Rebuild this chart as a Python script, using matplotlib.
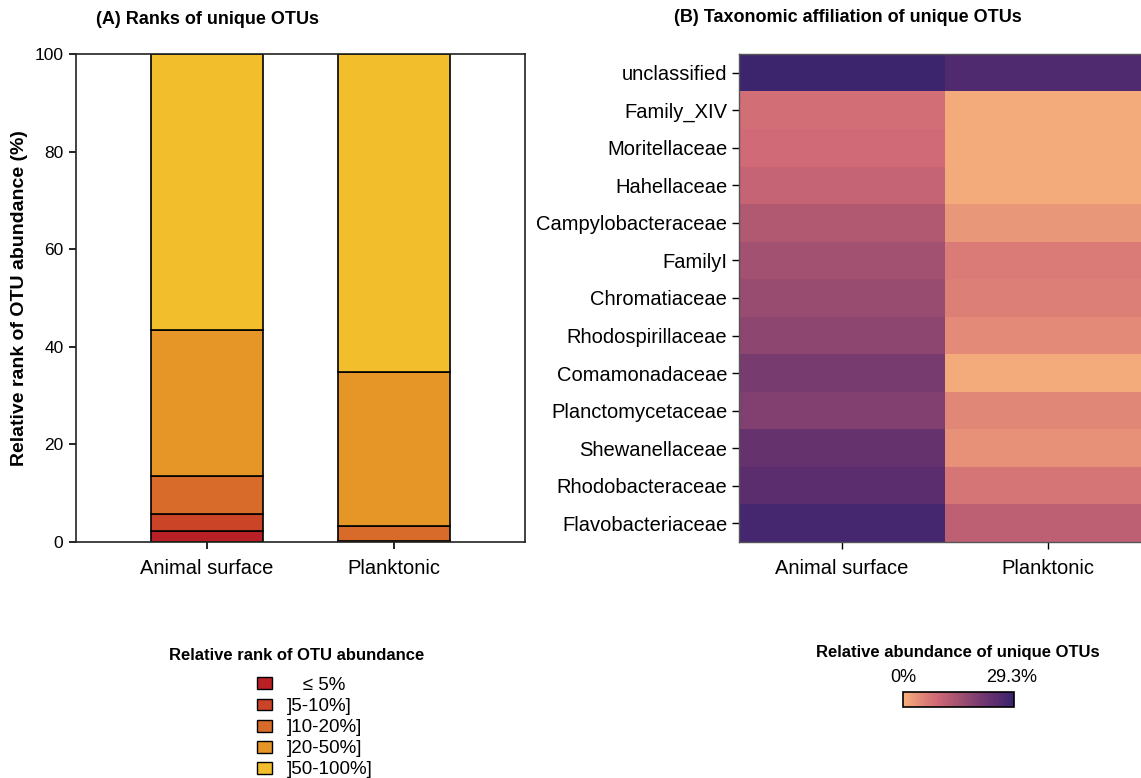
import numpy as np
import matplotlib
matplotlib.use("Agg")
import matplotlib.pyplot as plt
from matplotlib.patches import Patch
from matplotlib.colors import LinearSegmentedColormap, Normalize
from matplotlib.colorbar import ColorbarBase

plt.rcParams["font.family"] = ["Liberation Sans", "DejaVu Sans"]

# ---- data ----
habitats = ["Animal surface", "Planktonic"]
rank_classes = ["\u2264 5%", "]5-10%]", "]10-20%]", "]20-50%]", "]50-100%]"]
rank_colors = ["#B82025", "#CC4428", "#D86B29", "#E69626", "#F3BE2B"]
# share (%) of unique OTUs in each rank class
animal_ranks = [2.3, 3.4, 7.9, 29.9, 56.5]
planktonic_ranks = [0.1, 0.1, 3.0, 31.6, 65.2]

families = ["unclassified", "Family_XIV", "Moritellaceae", "Hahellaceae",
            "Campylobacteraceae", "FamilyI", "Chromatiaceae", "Rhodospirillaceae",
            "Comamonadaceae", "Planctomycetaceae", "Shewanellaceae",
            "Rhodobacteraceae", "Flavobacteriaceae"]
animal_abund = [28.4, 8.2, 8.8, 10.3, 12.9, 14.7, 16.1, 17.6, 20.2, 18.8, 22.9, 24.6, 27.5]
plankt_abund = [26.1, 0.6, 0.6, 0.6, 2.9, 6.4, 5.9, 4.4, 0.6, 4.7, 3.5, 7.3, 11.1]
abund_max = 29.3

cmap = LinearSegmentedColormap.from_list("sunset", [
    (0.0, "#F6B07C"), (0.15, "#E38A78"), (0.3, "#D06A76"), (0.5, "#A35270"),
    (0.7, "#763A70"), (0.85, "#5A2D6E"), (1.0, "#37246F")])

W, H = 1141, 778
fig = plt.figure(figsize=(W / 100, H / 100), dpi=100)


def px_box(left, top, right, bottom):
    return [left / W, 1 - bottom / H, (right - left) / W, (bottom - top) / H]


# ---- (A) stacked bars ----
ax1 = fig.add_axes(px_box(76, 54, 525, 542))
x = np.arange(len(habitats))
bottoms = np.zeros(len(habitats))
for i, cls in enumerate(rank_classes):
    vals = np.array([animal_ranks[i], planktonic_ranks[i]])
    ax1.bar(x, vals, width=0.6, bottom=bottoms, color=rank_colors[i],
            edgecolor="black", linewidth=1.2)
    bottoms += vals

ax1.set_xlim(-0.7, 1.7)
ax1.set_ylim(0, 100)
ax1.set_yticks([0, 20, 40, 60, 80, 100])
ax1.set_xticks(x)
ax1.set_xticklabels(habitats)
ax1.tick_params(axis="y", labelsize=12.5, length=5, width=1.2, pad=4)
ax1.tick_params(axis="x", labelsize=14.5, length=5, width=1.2, pad=7)
for s in ax1.spines.values():
    s.set_linewidth(1.2)
    s.set_color("#222222")
ax1.set_ylabel("Relative rank of OTU abundance (%)", fontsize=14, fontweight="bold")
ax1.yaxis.set_label_coords((28 - 76) / 449, 0.5)
fig.text(207 / W, 1 - 20 / H, "(A) Ranks of unique OTUs", ha="center", va="center",
         fontsize=13, fontweight="bold")

# ---- (B) heatmap ----
ax2 = fig.add_axes(px_box(739, 54, 1151, 542))
mat = np.column_stack([animal_abund, plankt_abund])
ax2.imshow(mat, cmap=cmap, vmin=0, vmax=abund_max, aspect="auto",
           interpolation="nearest")
ax2.set_xticks(range(len(habitats)))
ax2.set_xticklabels(habitats)
ax2.set_yticks(range(len(families)))
ax2.set_yticklabels(families)
ax2.tick_params(labelsize=14.5, length=5, width=1)
ax2.tick_params(axis="x", pad=7)
for s in ax2.spines.values():
    s.set_linewidth(1)
    s.set_color("#555555")
fig.text(848 / W, 1 - 18 / H, "(B) Taxonomic affiliation of unique OTUs",
         ha="center", va="center", fontsize=13, fontweight="bold")

# ---- legend for (A) ----
fig.text(297 / W, 1 - 656 / H, "Relative rank of OTU abundance", ha="center",
         va="center", fontsize=12, fontweight="bold")
handles = [Patch(facecolor=c, edgecolor="black", linewidth=1) for c in rank_colors]
labels = ["   " + rank_classes[0]] + rank_classes[1:]
fig.legend(handles, labels, loc="upper left",
           bbox_to_anchor=(257 / W, 1 - 677 / H), frameon=False,
           fontsize=13.5, borderpad=0, borderaxespad=0,
           handlelength=0.8, handleheight=0.6, labelspacing=0.22,
           handletextpad=0.8)

# ---- colorbar for (B) ----
cax = fig.add_axes(px_box(903, 692, 1014, 707))
cb = ColorbarBase(cax, cmap=cmap, norm=Normalize(0, abund_max), orientation="horizontal")
cb.set_ticks([])
cb.outline.set_linewidth(1.2)
fig.text(958 / W, 1 - 653 / H, "Relative abundance of unique OTUs", ha="center",
         va="center", fontsize=12, fontweight="bold")
fig.text(903 / W, 1 - 677 / H, "0%", ha="center", va="center", fontsize=13)
fig.text(1012 / W, 1 - 677 / H, f"{abund_max}%", ha="center", va="center", fontsize=13)

fig.savefig("out.png", dpi=100)
